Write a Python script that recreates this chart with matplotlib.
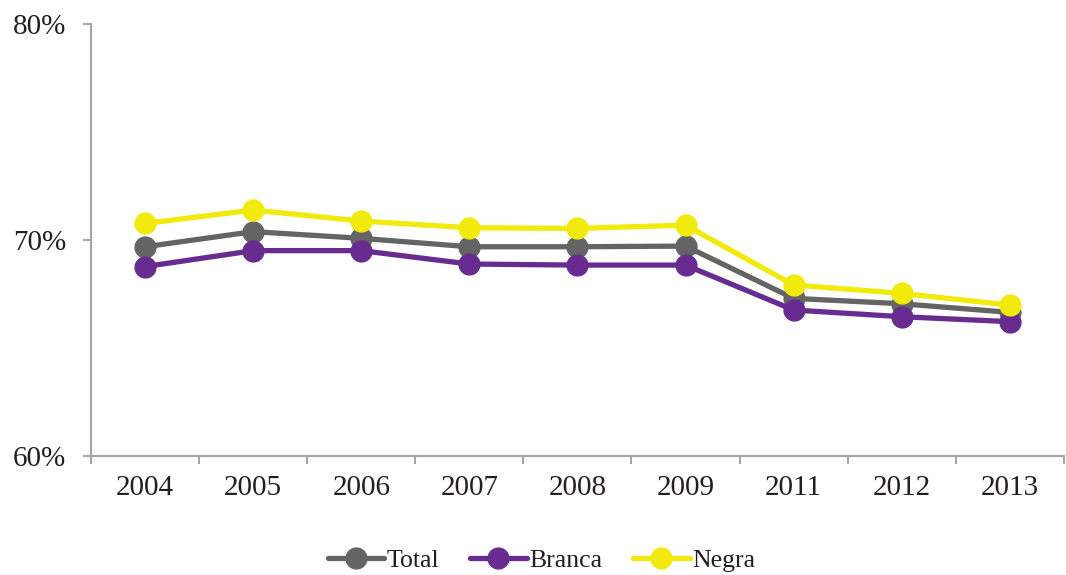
import numpy as np
import matplotlib.pyplot as plt
from matplotlib.ticker import FixedLocator, FuncFormatter

anos = ['2004', '2005', '2006', '2007', '2008', '2009', '2011', '2012', '2013']
total = [69.69, 70.39, 70.08, 69.69, 69.69, 69.72, 67.30, 67.05, 66.65]
branca = [68.77, 69.51, 69.51, 68.89, 68.84, 68.84, 66.76, 66.45, 66.22]
negra = [70.77, 71.39, 70.88, 70.57, 70.54, 70.69, 67.92, 67.53, 66.99]

plt.rcParams['font.family'] = ['Liberation Serif', 'DejaVu Serif']

fig = plt.figure(figsize=(10.66, 5.75), dpi=100)
ax = fig.add_axes((0.0854, 0.207, 0.9126, 0.751))

x = np.arange(len(anos))
series = [(total, 'Total', '#646464'),
          (branca, 'Branca', '#682c91'),
          (negra, 'Negra', '#f2e90d')]
for vals, nome, cor in series:
    ax.plot(x, vals, color=cor, lw=3.8, marker='o', ms=15, label=nome,
            solid_capstyle='round')

ax.set_xlim(-0.5, len(anos) - 0.5)
ax.set_ylim(60, 80)
ax.set_yticks([60, 70, 80])
ax.yaxis.set_major_formatter(FuncFormatter(lambda v, p: f'{v:.0f}%'))
ax.set_xticks(x)
ax.set_xticklabels(anos)
ax.xaxis.set_minor_locator(FixedLocator(np.arange(-0.5, len(anos), 1.0)))

cinza = '#a6a6a6'
for s in ['top', 'right']:
    ax.spines[s].set_visible(False)
for s in ['left', 'bottom']:
    ax.spines[s].set_color(cinza)
    ax.spines[s].set_linewidth(1.5)
ax.tick_params(axis='y', length=6, width=1.5, color=cinza, labelsize=21, pad=12)
ax.tick_params(axis='x', which='major', length=0, labelsize=21, pad=14)
ax.tick_params(axis='x', which='minor', length=6, width=1.5, color=cinza)
for lbl in ax.get_xticklabels() + ax.get_yticklabels():
    lbl.set_color('#231f20')

leg = fig.legend(loc='center', bbox_to_anchor=(0.508, 0.025), ncol=3,
                 frameon=False, fontsize=18.5, handlelength=2.2,
                 handletextpad=0.1, columnspacing=1.2, markerscale=1.0)
for t in leg.get_texts():
    t.set_color('#231f20')

fig.savefig('out.png', dpi=100)
